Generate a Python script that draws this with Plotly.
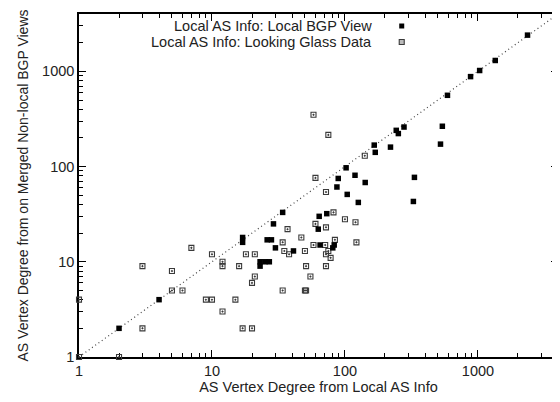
import numpy as np
import plotly.graph_objects as go

# Local AS Info: Local BGP View (filled squares)
bgp_x = [2, 4, 17, 17, 23, 23, 25, 27, 26, 28, 29, 30, 34, 41, 63, 64, 65, 73, 81, 83,
         87, 89, 102, 104, 119, 126, 142, 166, 169, 220, 243, 252, 278, 327, 333, 523,
         540, 590, 880, 1030, 1350, 2360]
bgp_y = [2, 4, 18, 16, 10, 9, 10, 10, 17, 17, 25, 14, 33, 13, 22, 30, 15, 32, 14, 15,
         61, 75, 97, 51, 81, 42, 68, 168, 141, 160, 240, 222, 260, 43, 77, 172,
         265, 560, 880, 1020, 1300, 2400]

# Local AS Info: Looking Glass Data (open squares)
lg_x = [1, 1, 2, 3, 3, 5, 5, 6, 7, 9, 10, 10, 12, 12, 12, 15, 16, 17, 18, 20, 20, 21, 21,
        34, 34, 35, 37, 38, 47, 50, 50, 51, 51, 55, 58, 58, 60, 60, 71, 72, 72, 72, 72,
        75, 75, 78, 82, 84, 100, 120, 122, 141]
lg_y = [1, 4, 1, 9, 2, 8, 5, 5, 14, 4, 4, 12, 10, 9, 3, 4, 9, 2, 12, 2, 6, 7, 12,
        5, 16, 13, 22, 12, 18, 13, 5, 5, 9, 7, 350, 15, 76, 25, 15, 54, 23, 12, 9,
        215, 13, 11, 33, 17, 28, 26, 16, 130]

nomes = ["Local AS Info: Local BGP View", "Local AS Info: Looking Glass Data"]
diag = [1, 4000]
major = [1, 10, 100, 1000]
minor = [m * d for d in [1, 10, 100, 1000] for m in range(2, 10) if m * d <= 4000]

fonte = dict(family="Liberation Sans, Arial, sans-serif", size=14.5, color="#222")
fonte_tit = dict(fonte, size=14)

fig = go.Figure()

# linha y = x
fig.add_trace(go.Scatter(x=diag, y=diag, mode="lines",
                         line=dict(color="#444", width=1.2, dash="1px,3px"),
                         showlegend=False, hoverinfo="skip"))

fig.add_trace(go.Scatter(x=lg_x, y=lg_y, mode="markers", name=nomes[1], cliponaxis=False,
                         marker=dict(symbol="square-open-dot", size=5, color="#3a3a3a",
                                     line=dict(width=1.1)),
                         showlegend=False))

fig.add_trace(go.Scatter(x=bgp_x, y=bgp_y, mode="markers", name=nomes[0], cliponaxis=False,
                         marker=dict(symbol="square", size=5.5, color="black"),
                         showlegend=False))

eixo = dict(type="log", range=[0, np.log10(4000)],
            tickvals=major, ticktext=[str(v) for v in major],
            ticks="inside", ticklen=7, tickwidth=1, tickcolor="black",
            minor=dict(tickvals=minor, ticks="inside", ticklen=4, tickwidth=1, tickcolor="black"),
            showline=True, linecolor="black", linewidth=1.5, mirror="ticks",
            showgrid=False, zeroline=False, tickfont=fonte, layer="below traces")

fig.update_xaxes(**eixo, title=dict(text="AS Vertex Degree from Local AS Info", font=fonte, standoff=4))
fig.update_yaxes(**eixo, title=dict(text="AS Vertex Degree from on Merged Non-local BGP Views",
                                   font=fonte_tit, standoff=10))

# a pagina tem margem de 8px, entao a figura fica 552x394
# legenda no estilo gnuplot (texto a direita, simbolo depois)
w, h = 479.4, 343.0
esq, topo = 71, 6
linhas = [26.0, 42.0]
for i, nome in enumerate(nomes):
    ypix = linhas[i] - 8
    yp = (topo + h - ypix) / h
    fig.add_annotation(x=(374 - 8 - esq) / w, y=yp, xref="paper", yref="paper",
                       text=nome, showarrow=False, xanchor="right", yanchor="middle",
                       font=fonte)
    if i == 0:
        fig.add_shape(type="rect", xref="paper", yref="paper", xsizemode="pixel", ysizemode="pixel",
                      xanchor=(402 - 8 - esq) / w, yanchor=yp, x0=-2.5, x1=2.5, y0=-2.5, y1=2.5,
                      fillcolor="black", line=dict(width=0))
    else:
        fig.add_shape(type="rect", xref="paper", yref="paper", xsizemode="pixel", ysizemode="pixel",
                      xanchor=(402 - 8 - esq) / w, yanchor=yp, x0=-2.5, x1=2.5, y0=-2.5, y1=2.5,
                      fillcolor="#bbb", line=dict(width=1.1, color="#3a3a3a"))

fig.update_layout(width=552, height=394, margin=dict(l=esq, r=552 - esq - w, t=topo, b=394 - topo - h),
                  plot_bgcolor="white", paper_bgcolor="white", font=fonte)

fig.write_html("out.html")
